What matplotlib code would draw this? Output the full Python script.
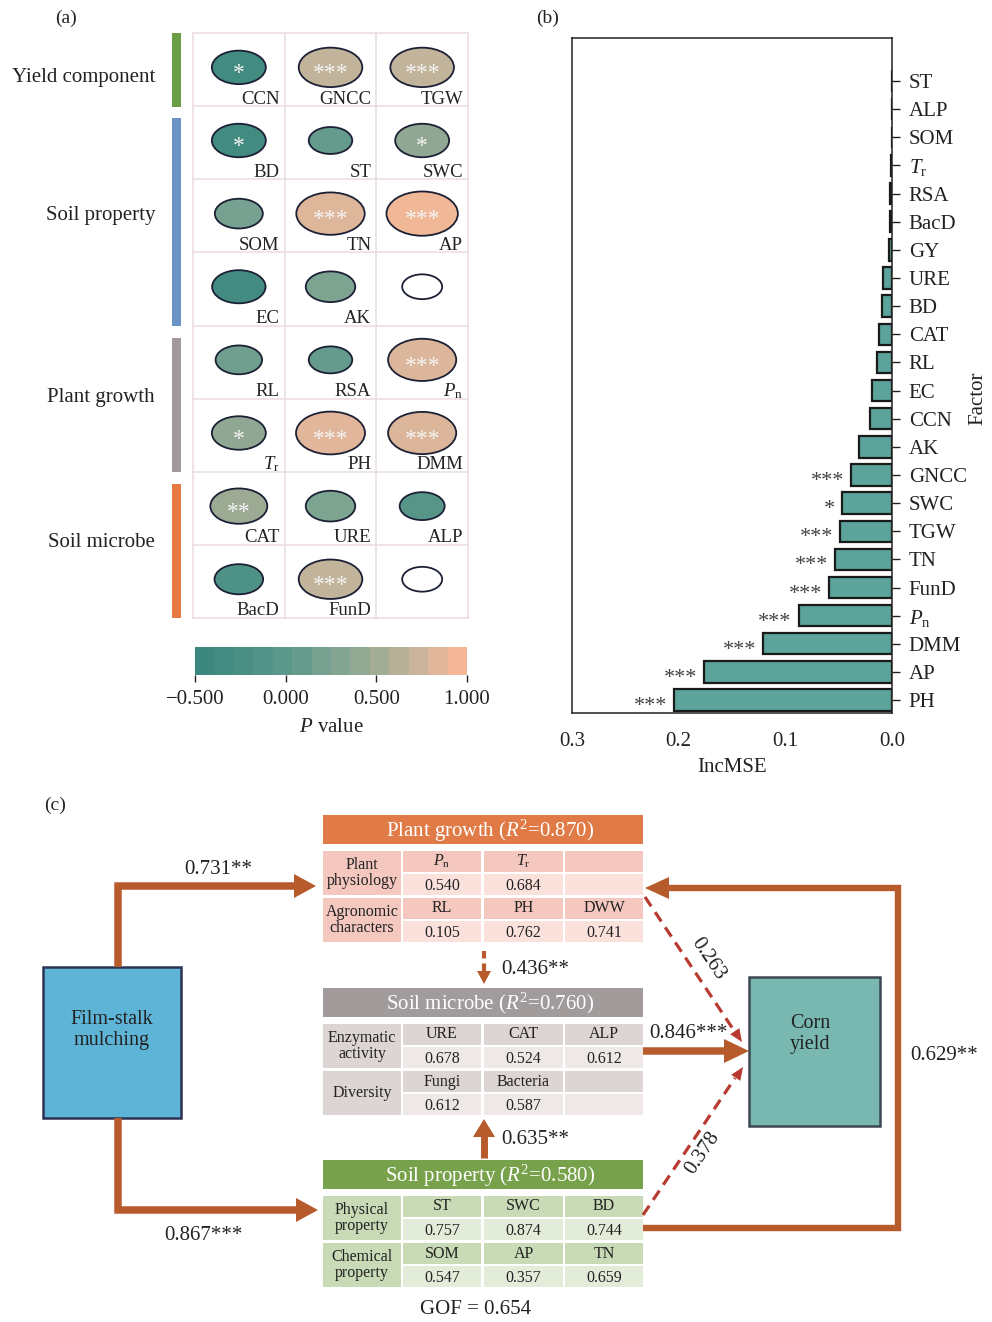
import numpy as np
import matplotlib
matplotlib.use('Agg')
import matplotlib.pyplot as plt
from matplotlib.patches import Ellipse, Rectangle, Polygon
from matplotlib.colors import LinearSegmentedColormap, ListedColormap, Normalize
from matplotlib.cm import ScalarMappable
import matplotlib.transforms as mtransforms

plt.rcParams['font.family'] = ['Liberation Serif', 'DejaVu Serif']
plt.rcParams['mathtext.fontset'] = 'custom'
plt.rcParams['mathtext.rm'] = 'Liberation Serif'
plt.rcParams['mathtext.it'] = 'Liberation Serif:italic'
plt.rcParams['mathtext.bf'] = 'Liberation Serif:bold'
plt.rcParams['axes.unicode_minus'] = True

PN = r'$\mathit{P}_{\mathrm{n}}$'
TR = r'$\mathit{T}_{\mathrm{r}}$'

# ---------------- data: panel (a) ----------------
a_labels = [['CCN', 'GNCC', 'TGW'],
            ['BD', 'ST', 'SWC'],
            ['SOM', 'TN', 'AP'],
            ['EC', 'AK', ''],
            ['RL', 'RSA', PN],
            [TR, 'PH', 'DMM'],
            ['CAT', 'URE', 'ALP'],
            ['BacD', 'FunD', '']]
a_values = [[-0.40, 0.72, 0.72],
            [-0.40, 0.05, 0.40],
            [0.20, 0.88, 0.98],
            [-0.38, 0.25, np.nan],
            [0.15, 0.05, 0.87],
            [0.40, 0.90, 0.87],
            [0.50, 0.25, -0.10],
            [-0.22, 0.72, np.nan]]
a_signif = [['*', '***', '***'],
            ['*', '', '*'],
            ['', '***', '***'],
            ['', '', ''],
            ['', '', '***'],
            ['*', '***', '***'],
            ['**', '', ''],
            ['', '***', '']]
groups = ['Yield component', 'Soil property', 'Plant growth', 'Soil microbe']
group_rows = [(0, 1), (1, 4), (4, 6), (6, 8)]
group_colors = ['#6C9F45', '#6B93C6', '#A29A9A', '#E67A42']
group_label_dy = [7, -6, -7, -8]
cbar_ticks = [-0.5, 0.0, 0.5, 1.0]

# ---------------- data: panel (b) ----------------
b_factors = ['PH', 'AP', 'DMM', PN, 'FunD', 'TN', 'TGW', 'SWC', 'GNCC', 'AK', 'CCN',
             'EC', 'RL', 'CAT', 'BD', 'URE', 'GY', 'BacD', 'RSA', TR, 'SOM', 'ALP', 'ST']
b_values = [0.204, 0.176, 0.121, 0.0875, 0.059, 0.053, 0.049, 0.047, 0.038, 0.031, 0.021,
            0.019, 0.014, 0.012, 0.009, 0.008, 0.0025, 0.002, 0.0015, 0.001, 0.0, 0.0, 0.0]
b_signif = ['***', '***', '***', '***', '***', '***', '***', '*', '***', '', '',
            '', '', '', '', '', '', '', '', '', '', '', '']
b_xticks = [0.3, 0.2, 0.1, 0.0]

# ---------------- data: panel (c) ----------------
pg_groups = ['Plant\nphysiology', 'Agronomic\ncharacters']
pg_names = [[PN, TR, ''], ['RL', 'PH', 'DWW']]
pg_vals = [[0.540, 0.684, None], [0.105, 0.762, 0.741]]
sm_groups = ['Enzymatic\nactivity', 'Diversity']
sm_names = [['URE', 'CAT', 'ALP'], ['Fungi', 'Bacteria', '']]
sm_vals = [[0.678, 0.524, 0.612], [0.612, 0.587, None]]
sp_groups = ['Physical\nproperty', 'Chemical\nproperty']
sp_names = [['ST', 'SWC', 'BD'], ['SOM', 'AP', 'TN']]
sp_vals = [[0.757, 0.874, 0.744], [0.547, 0.357, 0.659]]
r2 = {'Plant growth': 0.870, 'Soil microbe': 0.760, 'Soil property': 0.580}
path_coef = {'mulch_pg': '0.731**', 'mulch_sp': '0.867***', 'pg_sm': '0.436**',
             'sp_sm': '0.635**', 'sm_cy': '0.846***', 'pg_cy': '0.263',
             'sp_cy': '0.378', 'sp_pg': '0.629**'}
gof = 0.654

# ---------------- figure ----------------
W, H = 992, 1322
fig = plt.figure(figsize=(W / 100, H / 100), dpi=100)
fig.patch.set_facecolor('white')


def px_axes(x0, y0, x1, y1, **kw):
    return fig.add_axes([x0 / W, 1 - y1 / H, (x1 - x0) / W, (y1 - y0) / H], **kw)


ax0 = px_axes(0, 0, W, H)
ax0.set_xlim(0, W)
ax0.set_ylim(H, 0)
ax0.axis('off')

TXT = '#222222'

# colormap
cmap = LinearSegmentedColormap.from_list(
    'pv', [(0.0, '#3B877D'), (1 / 3, '#5E998B'), (0.5, '#7DA391'),
           (2 / 3, '#9CAA94'), (5 / 6, '#C6B49C'), (1.0, '#F4B898')])
norm = Normalize(-0.5, 1.0)

# ---------------- panel (a) ----------------
axa = px_axes(193, 33, 468, 618)
axa.set_xlim(0, 3)
axa.set_ylim(8, 0)
axa.axis('off')
cell_w_px = (468 - 193) / 3
cell_h_px = (618 - 33) / 8
for k in range(4):
    axa.plot([k, k], [0, 8], color='#EDDEDE', lw=1.2, clip_on=False, zorder=1)
for k in range(9):
    axa.plot([0, 3], [k, k], color='#EDDEDE', lw=1.2, clip_on=False, zorder=1)

for r in range(8):
    for c in range(3):
        v = a_values[r][c]
        cx, cy = c + 0.5, r + 0.47
        if np.isnan(v):
            wpx, fc = 40, 'white'
        else:
            wpx, fc = 42 + 30 * abs(v), cmap(norm(v))
        hpx = wpx * 0.62
        e = Ellipse((cx, cy), wpx / cell_w_px, hpx / cell_h_px, facecolor=fc,
                    edgecolor='#1C2035', lw=1.3, zorder=3)
        axa.add_patch(e)
        if a_signif[r][c]:
            tr = mtransforms.offset_copy(axa.transData, fig=fig, x=0, y=-8.5, units='points')
            axa.text(cx, cy, a_signif[r][c], transform=tr, ha='center', va='baseline',
                     fontsize=17, color='#F4F4F4', zorder=4)
        if a_labels[r][c]:
            axa.text(c + 0.945, r + 0.965, a_labels[r][c], ha='right', va='baseline',
                     fontsize=13.5, color=TXT, zorder=4)

# group bars and labels
y_row = lambda rr: 33 + cell_h_px * rr
for i, (g, (r0, r1)) in enumerate(zip(groups, group_rows)):
    top = y_row(r0) + (0 if i == 0 else 12)
    bot = y_row(r1) - (0 if i > 0 else -1)
    ax0.add_patch(Rectangle((172, top), 9, bot - top, facecolor=group_colors[i],
                            edgecolor='none'))
    ax0.text(155, (top + bot) / 2 + group_label_dy[i], g, ha='right', va='center',
             fontsize=15, color=TXT)

# colorbar
axc = px_axes(195, 647, 467, 675)
dcmap = ListedColormap(cmap(np.linspace(0, 1, 14)))
sm = ScalarMappable(norm=norm, cmap=dcmap)
cb = fig.colorbar(sm, cax=axc, orientation='horizontal', ticks=cbar_ticks)
cb.outline.set_visible(False)
cb.ax.set_xticklabels(['\u22120.500', '0.000', '0.500', '1.000'])
cb.ax.tick_params(labelsize=15, length=5, width=1, pad=6, colors=TXT)
cb.set_label(r'$\mathit{P}$ value', fontsize=15, color=TXT, labelpad=6)

# ---------------- panel (b) ----------------
axb = px_axes(572, 38, 892, 713)
ypos = np.arange(len(b_factors))
axb.barh(ypos, b_values, height=0.76, color='#5BA39B', edgecolor='#1A1A1A', lw=1.6, zorder=2)
axb.set_xlim(0.3, 0.0)
axb.set_ylim(-0.46, len(b_factors) + 0.53)
axb.set_xticks(b_xticks)
axb.set_xticklabels([f'{t:.1f}' for t in b_xticks])
axb.yaxis.tick_right()
axb.set_yticks(ypos)
axb.set_yticklabels(b_factors)
axb.tick_params(axis='y', labelsize=15, length=6, width=1, pad=6, colors=TXT, direction='out')
axb.tick_params(axis='x', labelsize=15, length=0, pad=14, colors=TXT)
for s in axb.spines.values():
    s.set_linewidth(1.1)
    s.set_color('#222222')
axb.set_xlabel('IncMSE', fontsize=15, color=TXT, labelpad=5)
fig.text(978 / W, 1 - 398 / H, 'Factor', rotation=90, ha='center', va='center',
         fontsize=15, color=TXT)
trs = mtransforms.offset_copy(axb.transData, fig=fig, x=-5, y=-8, units='points')
for y, v, s in zip(ypos, b_values, b_signif):
    if s:
        axb.text(v, y, s, transform=trs, ha='right', va='baseline', fontsize=16, color='#444444')

# panel labels
ax0.text(66, 18, '(a)', ha='center', va='center', fontsize=14, color=TXT)
ax0.text(548, 18, '(b)', ha='center', va='center', fontsize=14, color=TXT)
ax0.text(55, 805, '(c)', ha='center', va='center', fontsize=14, color=TXT)

# ---------------- panel (c) ----------------
ARROW = '#B85B2C'
DASH = '#B83A30'


def head(tip, d, L, Wd, color):
    d = np.asarray(d, float)
    d = d / np.hypot(*d)
    n = np.array([-d[1], d[0]])
    tip = np.asarray(tip, float)
    base = tip - d * L
    ax0.add_patch(Polygon([tip, base + n * Wd / 2, base - n * Wd / 2], closed=True,
                          facecolor=color, edgecolor='none', zorder=6))


def path(pts, lw, color, ls='-'):
    xs, ys = zip(*pts)
    ax0.plot(xs, ys, color=color, lw=lw, ls=ls, solid_joinstyle='miter',
             solid_capstyle='butt', dash_capstyle='butt', zorder=5)


col_x = [(323, 401), (403, 481), (484, 563), (565, 643)]


def block(top, title, rsq, glabels, names, vals, c_head, c_name, c_val):
    ax0.add_patch(Rectangle((323, top), 320, 29, facecolor=c_head, edgecolor='none'))
    ax0.text(490, top + 15.5, title + ' (' + r'$\mathit{R}^{2}$' + f'={rsq:.3f})',
             ha='center', va='center', fontsize=15, color='white')
    y = top + 36
    for gi in range(2):
        r1 = (y, y + 21)
        r2_ = (y + 23, y + 44)
        ax0.add_patch(Rectangle((col_x[0][0], y), col_x[0][1] - col_x[0][0], 44,
                                facecolor=c_name, edgecolor='none'))
        ax0.text((col_x[0][0] + col_x[0][1]) / 2, y + 22, glabels[gi], ha='center',
                 va='center', fontsize=11.5, color=TXT, linespacing=0.95)
        for ci in range(3):
            x0, x1 = col_x[ci + 1]
            ax0.add_patch(Rectangle((x0, r1[0]), x1 - x0, 21, facecolor=c_name, edgecolor='none'))
            ax0.add_patch(Rectangle((x0, r2_[0]), x1 - x0, 21, facecolor=c_val, edgecolor='none'))
            if names[gi][ci]:
                ax0.text((x0 + x1) / 2, r1[0] + 10.5, names[gi][ci], ha='center',
                         va='center', fontsize=11.5, color=TXT)
            if vals[gi][ci] is not None:
                ax0.text((x0 + x1) / 2, r2_[0] + 12, f'{vals[gi][ci]:.3f}', ha='center',
                         va='center', fontsize=11.5, color=TXT)
        y += 47


block(815, 'Plant growth', r2['Plant growth'], pg_groups, pg_names, pg_vals,
      '#E07B47', '#F4C7BF', '#FBE1DC')
block(988, 'Soil microbe', r2['Soil microbe'], sm_groups, sm_names, sm_vals,
      '#A29B9B', '#DCD5D4', '#EEE8E7')
block(1160, 'Soil property', r2['Soil property'], sp_groups, sp_names, sp_vals,
      '#77A24B', '#C8DAB6', '#E2ECD8')
ax0.text(476, 1310, f'GOF = {gof:.3f}', ha='center', va='center', fontsize=15, color=TXT)

# boxes
ax0.add_patch(Rectangle((43, 967), 138, 151, facecolor='#5DB4D6', edgecolor='#2B3252', lw=1.8, zorder=4))
ax0.text(112, 1030, 'Film-stalk\nmulching', ha='center', va='center', fontsize=14.5,
         color=TXT, linespacing=1.1, zorder=7)
ax0.add_patch(Rectangle((749, 977), 131, 149, facecolor='#78B8B0', edgecolor='#3C4752', lw=1.8, zorder=4))
ax0.text(810, 1034, 'Corn\nyield', ha='center', va='center', fontsize=14.5,
         color=TXT, linespacing=1.1, zorder=7)

# arrows
path([(118, 967), (118, 886), (296, 886)], 5.4, ARROW)
head((316, 886), (1, 0), 22, 24, ARROW)
ax0.text(218, 870, path_coef['mulch_pg'], ha='center', va='center', fontsize=15, color=TXT)

path([(118, 1118), (118, 1210), (298, 1210)], 5.4, ARROW)
head((318, 1210), (1, 0), 22, 24, ARROW)
ax0.text(203, 1235, path_coef['mulch_sp'], ha='center', va='center', fontsize=15, color=TXT)

path([(484, 951), (484, 972)], 3.0, ARROW, ls=(0, (1.8, 1.2)))
head((484, 984), (0, 1), 13, 14, ARROW)
ax0.text(501, 969, path_coef['pg_sm'], ha='left', va='center', fontsize=15, color=TXT)

path([(484, 1158), (484, 1135)], 5.0, ARROW)
head((484, 1119), (0, -1), 18, 22, ARROW)
ax0.text(501, 1140, path_coef['sp_sm'], ha='left', va='center', fontsize=15, color=TXT)

path([(643, 1051), (726, 1051)], 5.4, ARROW)
head((749, 1051), (1, 0), 25, 24, ARROW)
ax0.text(688, 1034, path_coef['sm_cy'], ha='center', va='center', fontsize=15, color=TXT)

path([(645, 897), (735, 1032)], 2.3, DASH, ls=(0, (3.5, 2.2)))
head((742, 1042), (97, 145), 13, 11, DASH)
ax0.text(708, 959, path_coef['pg_cy'], ha='center', va='center', fontsize=15,
         color=TXT, rotation=-56)

path([(643, 1215), (735, 1078)], 2.3, DASH, ls=(0, (3.5, 2.2)))
head((743, 1067), (99, -148), 13, 11, DASH)
ax0.text(703, 1153, path_coef['sp_cy'], ha='center', va='center', fontsize=15,
         color=TXT, rotation=56)

path([(643, 1228), (898, 1228), (898, 888), (668, 888)], 4.6, ARROW)
head((645, 888), (-1, 0), 24, 22, ARROW)
ax0.text(944, 1055, path_coef['sp_pg'], ha='center', va='center', fontsize=15, color=TXT)

fig.savefig('out.png', dpi=100, facecolor='white')
